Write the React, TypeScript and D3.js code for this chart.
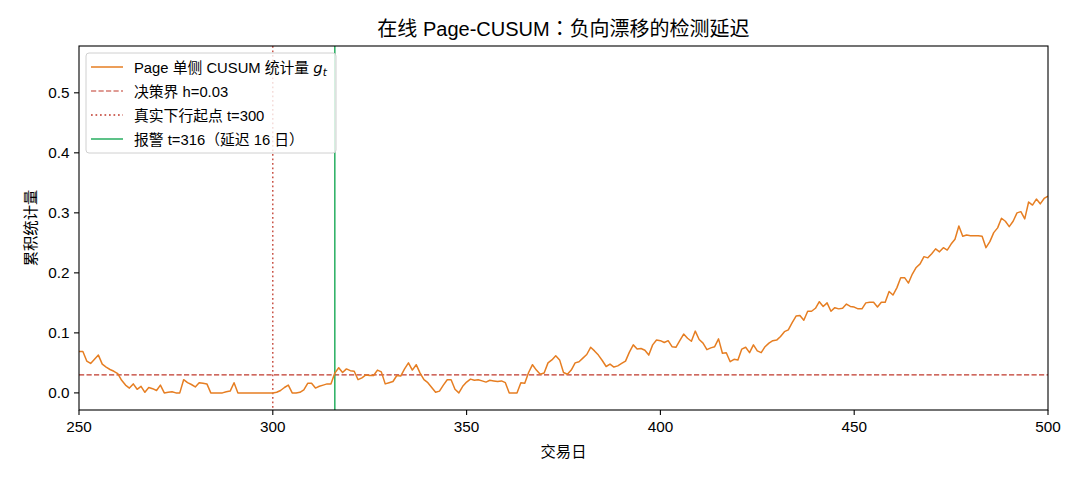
import React from "react";
import * as d3 from "d3";

const startDay = 250;
const gValues: number[] = [
  // 250-259
  0.069, 0.069, 0.053, 0.049, 0.056, 0.063, 0.048, 0.043, 0.039, 0.036,
  // 260-269
  0.032, 0.021, 0.013, 0.008, 0.015, 0.006, 0.011, 0.001, 0.009, 0.007,
  // 270-279
  0.004, 0.013, 0.0, 0.001, 0.002, 0.0, 0.0, 0.022, 0.017, 0.014,
  // 280-289
  0.010, 0.017, 0.016, 0.015, 0.0, 0.0, 0.0, 0.0, 0.002, 0.003,
  // 290-299
  0.017, 0.0, 0.0, 0.0, 0.0, 0.0, 0.0, 0.0, 0.0, 0.0,
  // 300-309
  0.0, 0.001, 0.004, 0.009, 0.013, 0.0, 0.0, 0.001, 0.005, 0.016,
  // 310-319
  0.016, 0.008, 0.011, 0.013, 0.015, 0.015, 0.033, 0.042, 0.034, 0.040,
  // 320-329
  0.037, 0.036, 0.022, 0.025, 0.030, 0.029, 0.029, 0.038, 0.035, 0.015,
  // 330-339
  0.017, 0.019, 0.029, 0.028, 0.040, 0.050, 0.038, 0.047, 0.033, 0.022,
  // 340-349
  0.017, 0.009, 0.001, 0.003, 0.013, 0.022, 0.022, 0.006, 0.0, 0.011,
  // 350-359
  0.018, 0.023, 0.021, 0.022, 0.020, 0.018, 0.021, 0.020, 0.019, 0.020,
  // 360-369
  0.017, 0.0, 0.0, 0.0, 0.017, 0.016, 0.034, 0.047, 0.038, 0.031,
  // 370-379
  0.033, 0.050, 0.055, 0.062, 0.055, 0.034, 0.031, 0.038, 0.050, 0.052,
  // 380-389
  0.058, 0.064, 0.076, 0.070, 0.063, 0.054, 0.044, 0.048, 0.043, 0.045,
  // 390-399
  0.049, 0.053, 0.068, 0.080, 0.073, 0.074, 0.071, 0.063, 0.080, 0.088,
  // 400-409
  0.087, 0.084, 0.087, 0.077, 0.076, 0.087, 0.098, 0.091, 0.086, 0.103,
  // 410-419
  0.089, 0.083, 0.072, 0.075, 0.077, 0.090, 0.066, 0.067, 0.052, 0.056,
  // 420-429
  0.055, 0.073, 0.076, 0.067, 0.080, 0.070, 0.067, 0.077, 0.083, 0.087,
  // 430-439
  0.088, 0.094, 0.102, 0.105, 0.117, 0.128, 0.129, 0.121, 0.136, 0.136,
  // 440-449
  0.141, 0.152, 0.144, 0.150, 0.136, 0.142, 0.140, 0.141, 0.148, 0.144,
  // 450-459
  0.143, 0.140, 0.140, 0.150, 0.151, 0.151, 0.143, 0.151, 0.151, 0.169,
  // 460-469
  0.163, 0.175, 0.192, 0.192, 0.183, 0.198, 0.209, 0.215, 0.227, 0.225,
  // 470-479
  0.232, 0.240, 0.235, 0.242, 0.238, 0.248, 0.256, 0.278, 0.261, 0.263,
  // 480-489
  0.262, 0.262, 0.262, 0.261, 0.242, 0.252, 0.267, 0.275, 0.291, 0.286,
  // 490-500
  0.277, 0.286, 0.300, 0.302, 0.290, 0.318, 0.313, 0.323, 0.315, 0.324, 0.328,
];

const threshold = 0.03;
const driftStart = 300;
const alarmDay = 316;
const xTicks = [250, 300, 350, 400, 450, 500];
const yTicks = [0.0, 0.1, 0.2, 0.3, 0.4, 0.5];
const xDomain: [number, number] = [250, 500];
const yDomain: [number, number] = [-0.0285, 0.578];

const title = "在线 Page-CUSUM：负向漂移的检测延迟";
const xLabel = "交易日";
const yLabel = "累积统计量";
const legendLabels = [
  "Page 单侧 CUSUM 统计量 ",
  "决策界 h=0.03",
  "真实下行起点 t=300",
  "报警 t=316（延迟 16 日）",
];

const FONT = "'Liberation Sans', Arial, 'Noto Sans CJK SC', sans-serif";
const CJK_FONT = "'Noto Sans CJK SC', sans-serif";
const PUNCT_FONT = "'Noto Sans CJK TC', sans-serif";
const ORANGE = "#e67e22";
const RED = "#c0392b";
const GREEN = "#27ae60";

function runs(s: string) {
  const out: { t: string; k: "cjk" | "punct" | "lat" }[] = [];
  for (const ch of s) {
    const c = ch.codePointAt(0) || 0;
    const k: "cjk" | "punct" | "lat" =
      c >= 0x4e00 && c <= 0x9fff ? "cjk" : (c >= 0x3000 && c <= 0x303f) || (c >= 0xff00 && c <= 0xffef) ? "punct" : "lat";
    if (out.length && out[out.length - 1].k === k) out[out.length - 1].t += ch;
    else out.push({ t: ch, k });
  }
  return out;
}

function Mixed({ s }: { s: string }) {
  return (
    <>
      {runs(s).map((r, i) =>
        r.k === "lat" ? (
          <tspan key={i}>{r.t}</tspan>
        ) : (
          <tspan key={i} fontFamily={r.k === "cjk" ? CJK_FONT : PUNCT_FONT}>
            {r.t}
          </tspan>
        )
      )}
    </>
  );
}

export default function App() {
  const W = 1080, H = 480;
  const L = 79, R = 1048, T = 46, B = 410;
  const x = d3.scaleLinear().domain(xDomain).range([L, R]);
  const y = d3.scaleLinear().domain(yDomain).range([B, T]);
  const data = gValues.map((v, i) => ({ d: startDay + i, v }));
  const line = d3.line<{ d: number; v: number }>().x((p) => x(p.d)).y((p) => y(p.v));

  const legX = 86, legY = 53, legW = 250, legH = 100;
  const rowY = (i: number) => 67 + i * 24;
  const fs = 15.3;
  const lfs = 14.8;

  return (
    <svg width={W} height={H} style={{ display: "block", position: "absolute", left: 0, top: 0 }} fontFamily={FONT}>
      <rect x={0} y={0} width={W} height={H} fill="#fff" />
      <defs>
        <clipPath id="plotclip">
          <rect x={L} y={T} width={R - L} height={B - T} />
        </clipPath>
      </defs>
      <g clipPath="url(#plotclip)">
        <line x1={L} x2={R} y1={y(threshold)} y2={y(threshold)} stroke={RED} strokeWidth={1.2} strokeDasharray="5.2,2.3" />
        <line x1={x(driftStart)} x2={x(driftStart)} y1={T} y2={B} stroke={RED} strokeWidth={1.3} strokeDasharray="1.7,2.8" />
        <line x1={x(alarmDay)} x2={x(alarmDay)} y1={T} y2={B} stroke={GREEN} strokeWidth={1.5} />
        <path d={line(data) || ""} fill="none" stroke={ORANGE} strokeWidth={1.5} strokeLinejoin="round" />
      </g>
      <rect x={L} y={T} width={R - L} height={B - T} fill="none" stroke="#000" strokeWidth={1.1} />
      {xTicks.map((t) => (
        <g key={"x" + t}>
          <line x1={x(t)} x2={x(t)} y1={B} y2={B + 5} stroke="#000" strokeWidth={1.1} />
          <text x={x(t)} y={B + 21.5} fontSize={fs} textAnchor="middle" fill="#000">{t}</text>
        </g>
      ))}
      {yTicks.map((t) => (
        <g key={"y" + t}>
          <line x1={L - 5} x2={L} y1={y(t)} y2={y(t)} stroke="#000" strokeWidth={1.1} />
          <text x={L - 9.5} y={y(t) + 5.5} fontSize={fs} textAnchor="end" fill="#000">{t.toFixed(1)}</text>
        </g>
      ))}
      <text x={(L + R) / 2} y={457} fontSize={fs} textAnchor="middle" fill="#000"><Mixed s={xLabel} /></text>
      <text transform={`translate(36,${(T + B) / 2}) rotate(-90)`} fontSize={fs} textAnchor="middle" fill="#000"><Mixed s={yLabel} /></text>
      <text x={(L + R) / 2} y={36} fontSize={20} textAnchor="middle" fill="#000"><Mixed s={title} /></text>

      <rect x={legX} y={legY} width={legW} height={legH} rx={3} fill="#fff" fillOpacity={0.8} stroke="#d0d0d0" strokeWidth={1} />
      <line x1={91} x2={123} y1={rowY(0)} y2={rowY(0)} stroke={ORANGE} strokeWidth={1.5} />
      <line x1={91} x2={123} y1={rowY(1)} y2={rowY(1)} stroke={RED} strokeWidth={1.2} strokeDasharray="5.2,2.3" />
      <line x1={91} x2={123} y1={rowY(2)} y2={rowY(2)} stroke={RED} strokeWidth={1.3} strokeDasharray="1.7,2.8" />
      <line x1={91} x2={123} y1={rowY(3)} y2={rowY(3)} stroke={GREEN} strokeWidth={1.5} />
      <text x={134} y={rowY(0) + 5.5} fontSize={lfs} fill="#000">
        <Mixed s={legendLabels[0]} />
        <tspan fontStyle="italic" fontFamily="'DejaVu Sans', sans-serif">g</tspan>
        <tspan fontStyle="italic" fontFamily="'DejaVu Sans', sans-serif" fontSize={10.5} dy={3}>t</tspan>
      </text>
      {legendLabels.slice(1).map((s, i) => (
        <text key={s} x={134} y={rowY(i + 1) + 5.5} fontSize={lfs} fill="#000"><Mixed s={s} /></text>
      ))}
    </svg>
  );
}
